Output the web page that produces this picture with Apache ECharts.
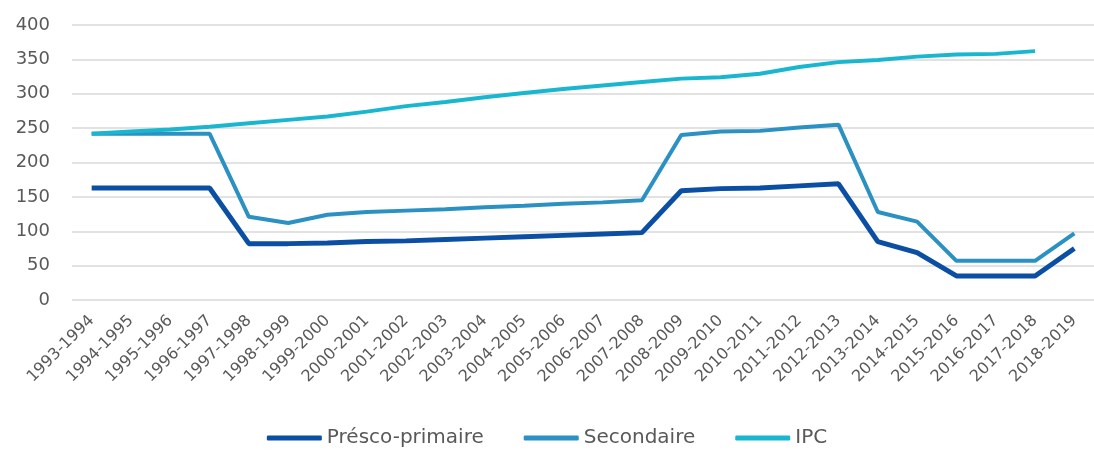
<!DOCTYPE html>
<html>
<head>
<meta charset="utf-8">
<script src="https://cdn.jsdelivr.net/npm/echarts@6/dist/echarts.min.js"></script>
<style>
html, body { margin: 0; padding: 0; background: #fff; }
#chart { width: 1094px; height: 462px; }
</style>
</head>
<body>
<div id="chart"></div>
<script>
var years = ['1993-1994', '1994-1995', '1995-1996', '1996-1997', '1997-1998', '1998-1999', '1999-2000',
    '2000-2001', '2001-2002', '2002-2003', '2003-2004', '2004-2005', '2005-2006', '2006-2007',
    '2007-2008', '2008-2009', '2009-2010', '2010-2011', '2011-2012', '2012-2013', '2013-2014',
    '2014-2015', '2015-2016', '2016-2017', '2017-2018', '2018-2019'];
var prescoPrimaire = [163, 163, 163, 163, 82, 82, 83, 85, 86, 88, 90, 92, 94, 96, 98, 159, 162, 163, 166, 169, 85, 69, 35, 35, 35, 75];
var secondaire = [242, 242, 242, 242, 121, 112, 124, 128, 130, 132, 135, 137, 140, 142, 145, 240, 245, 246, 251, 255, 128, 114, 57, 57, 57, 97];
var ipc = [242, 245, 248, 252, 257, 262, 267, 274, 282, 288, 295, 301, 307, 312, 317, 322, 324, 329, 339, 346, 349, 354, 357, 358, 362, null];
var yTicks = { min: 0, max: 400, interval: 50 };

var textFont = 'DejaVu Sans';
var grey = '#595959';

var myChart = echarts.init(document.getElementById('chart'));
var option = {
    animation: false,
    grid: {
        left: 72,
        right: -14,
        top: 25,
        bottom: 162
    },
    legend: {
        data: ['Présco-primaire', 'Secondaire', 'IPC'],
        bottom: 9,
        left: 'center',
        itemWidth: 55,
        itemHeight: 5,
        itemGap: 40,
        icon: 'roundRect',
        textStyle: { color: grey, fontSize: 20, fontFamily: textFont }
    },
    xAxis: {
        type: 'category',
        data: years,
        boundaryGap: true,
        axisLine: { show: false },
        axisTick: { show: false },
        axisLabel: {
            rotate: 45,
            interval: 0,
            color: grey,
            fontSize: 16,
            fontFamily: textFont,
            margin: 18
        }
    },
    yAxis: {
        type: 'value',
        min: yTicks.min,
        max: yTicks.max,
        interval: yTicks.interval,
        axisLabel: { color: grey, fontSize: 18, fontFamily: textFont, margin: 22 },
        splitLine: { lineStyle: { color: '#d9d9d9', width: 1.5 } }
    },
    series: [
        {
            name: 'Présco-primaire',
            type: 'line',
            data: prescoPrimaire,
            symbol: 'none',
            itemStyle: { color: '#0a4fa3' },
            lineStyle: { width: 5, color: '#0a4fa3' },
            z: 3
        },
        {
            name: 'Secondaire',
            type: 'line',
            data: secondaire,
            symbol: 'none',
            itemStyle: { color: '#2b91c3' },
            lineStyle: { width: 4, color: '#2b91c3' },
            z: 4
        },
        {
            name: 'IPC',
            type: 'line',
            data: ipc,
            symbol: 'none',
            itemStyle: { color: '#19b6d0' },
            lineStyle: { width: 4, color: '#19b6d0' },
            z: 5
        }
    ]
};
myChart.setOption(option);
</script>
</body>
</html>
